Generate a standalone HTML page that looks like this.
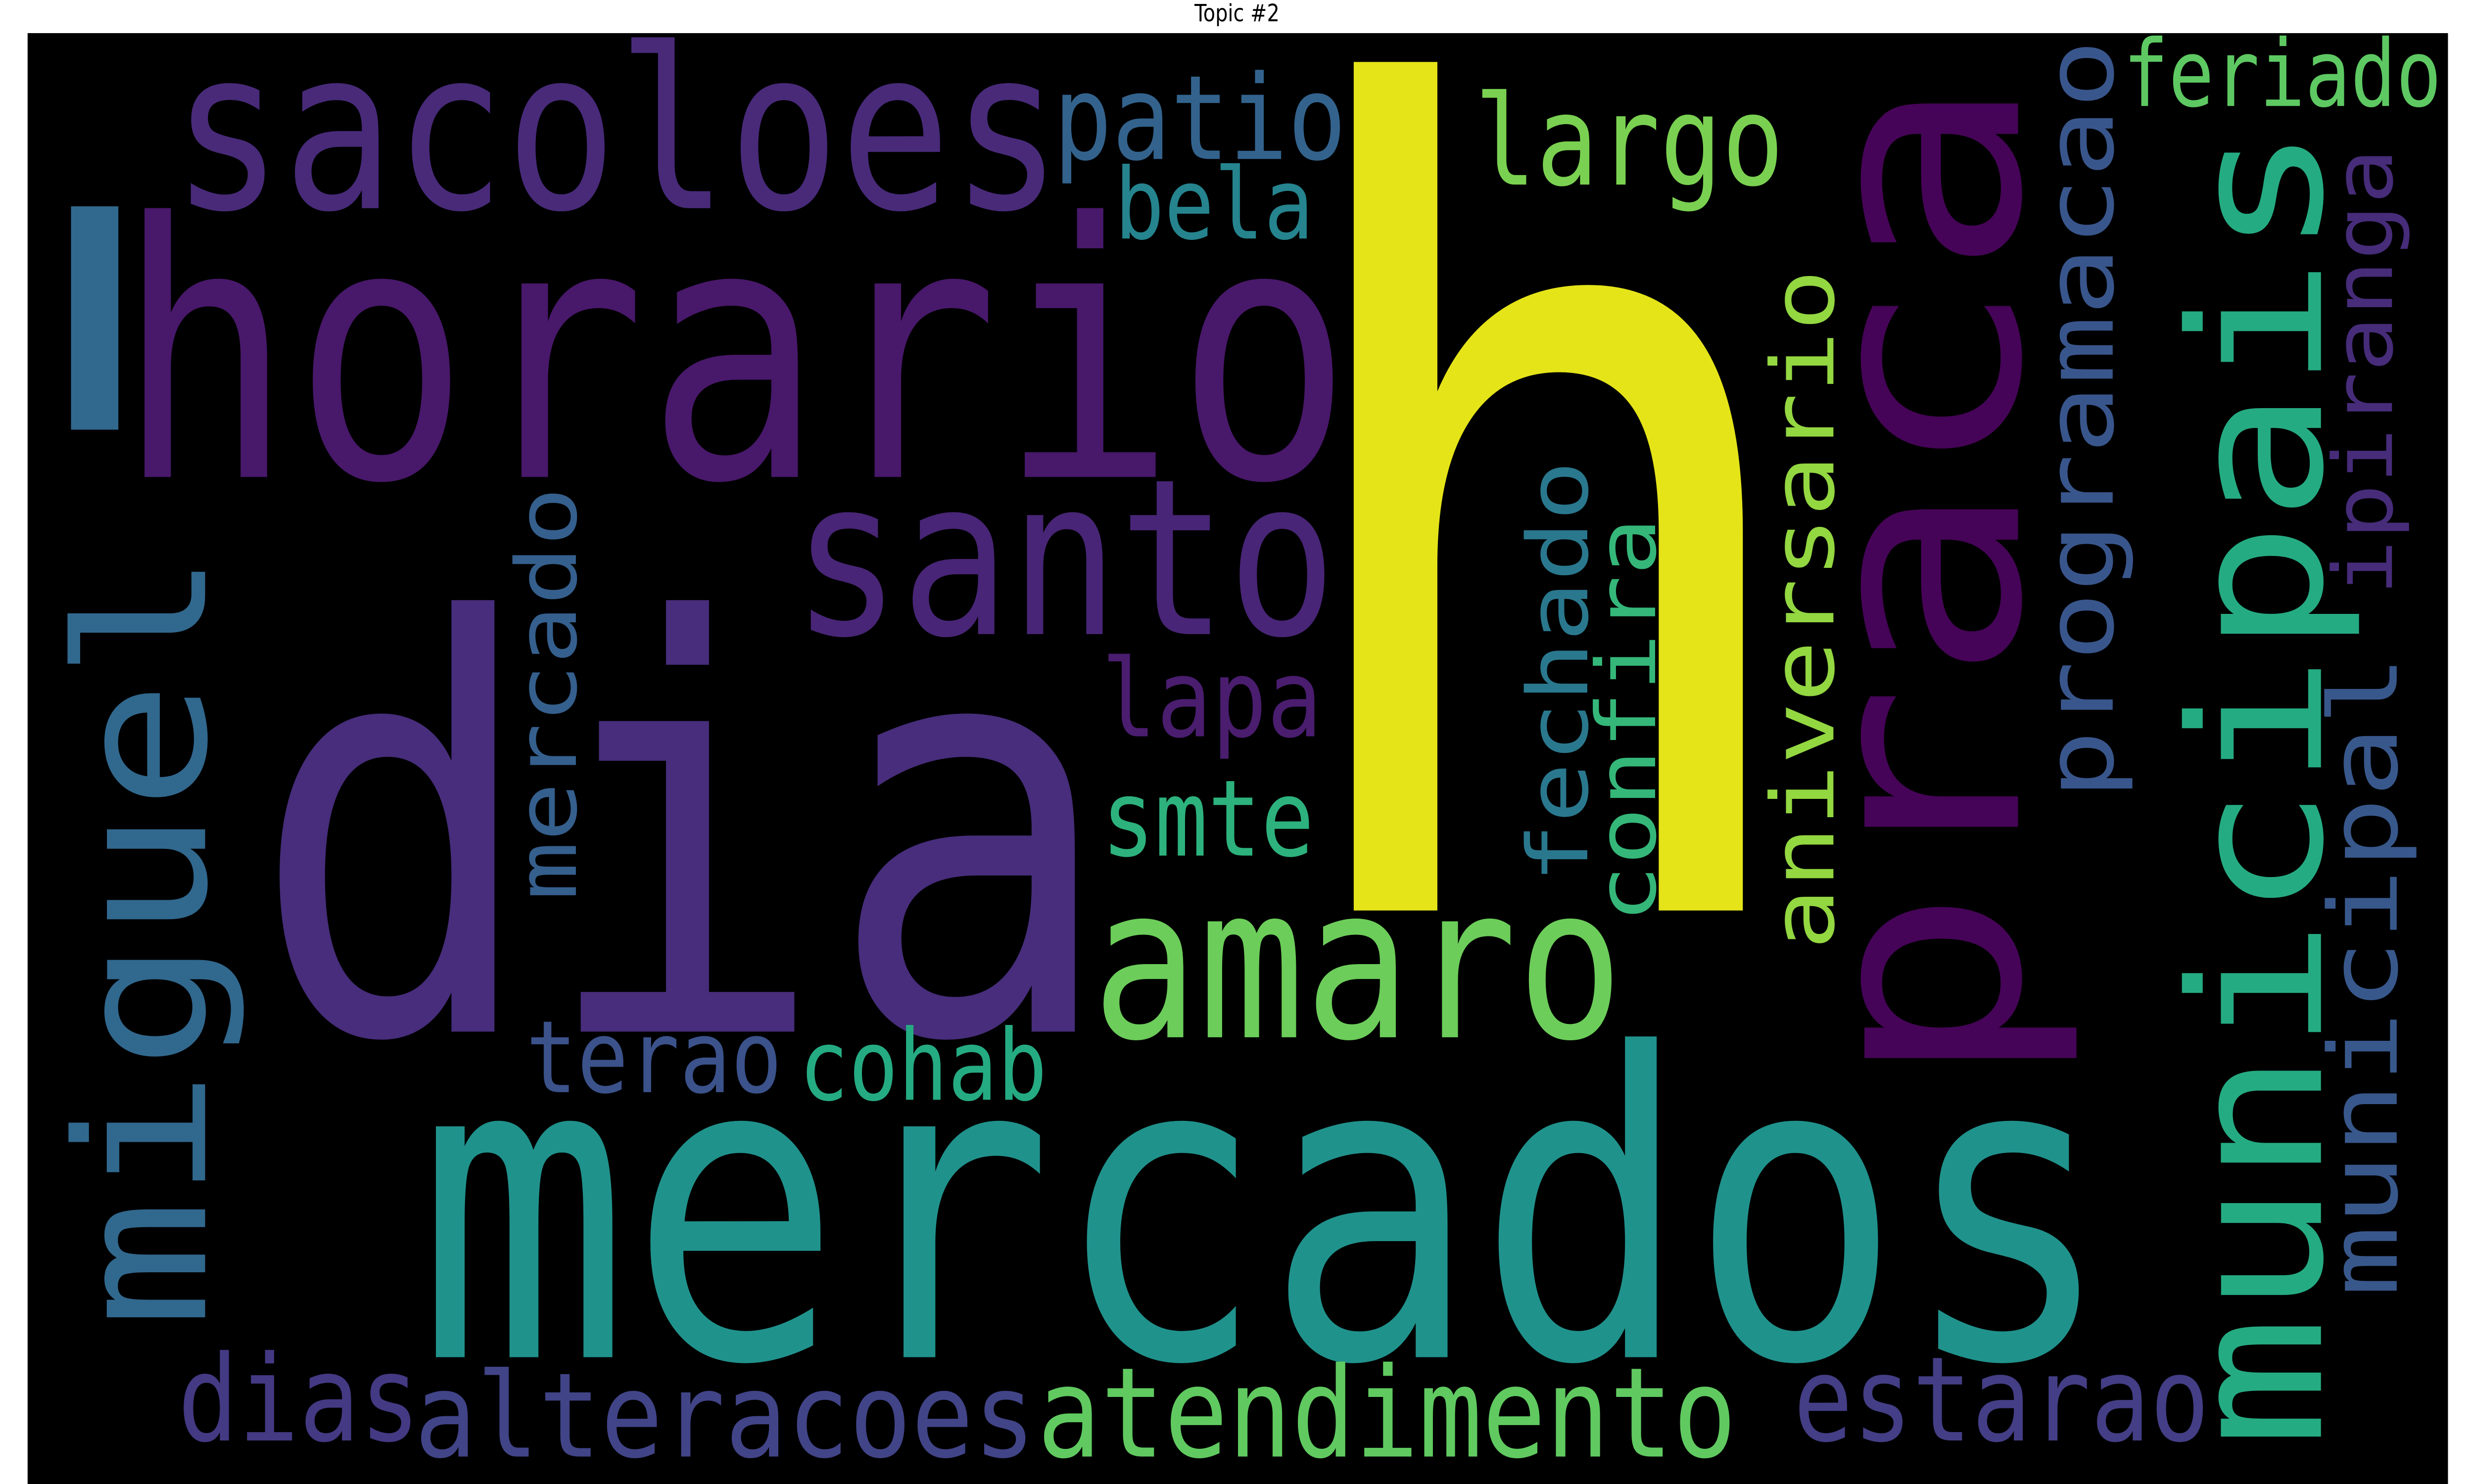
<!DOCTYPE html>
<html><head><meta charset="utf-8"><style>
html,body{margin:0;padding:0;background:#fff;width:100%;height:100%;overflow:hidden;}
svg{display:block;position:fixed;left:0;top:0;width:100vw;height:100vh;}
text.w{font-family:"DejaVu Sans Mono","Liberation Mono",monospace;}
</style></head><body>
<svg viewBox="0 0 1568 784" preserveAspectRatio="none" xmlns="http://www.w3.org/2000/svg">
<rect x="0" y="0" width="1568" height="784" fill="#fff"/>
<text x="784" y="11.2" font-family="DejaVu Sans, Liberation Sans, sans-serif" font-size="12.5" text-anchor="middle" fill="#000">Topic #2</text>
<rect x="17.5" y="17.5" width="1534" height="767" fill="#000"/>
<g id="words"></g>
</svg>
<script>
// horizontal words: text, left, right, baseline, size, color
const hWords = [
 ["sacoloes",117,665,110,118,"#482a79"],
 ["horario",87,844,252,187,"#48186a"],
 ["santo",510,839,335,115,"#482576"],
 ["patio",672,849,84,62,"#33638d"],
 ["bela",710,829,126,52,"#25848e"],
 ["largo",939,1126,97.5,66,"#7ad151"],
 ["feriado",1349,1544,56,49,"#5ec962"],
 ["lapa",702,834,389,57,"#4a1d6f"],
 ["smte",702,829,452,56,"#2db27d"],
 ["amaro",700,1021,548,112,"#6ccd5a"],
 ["dia",180,686,545,300,"#472d7b"],
 ["terao",337,492,577,53,"#3b528b"],
 ["cohab",510,660,581,52,"#25ab82"],
 ["mercados",280,1324,717,223,"#20928c"],
 ["dias",117,262,761,63,"#443983"],
 ["alteracoes",267,652,769.5,62,"#414487"],
 ["atendimento",662,1096,769.5,66,"#60ca60"],
 ["estarao",1141,1396,761,62,"#433e85"]
];
// vertical words: text, baselineX, top, bottom, size, color
const vWords = [
 ["miguel",130,299,694,114,"#31688e"],
 ["mercado",365,261,472,53,"#355f8d"],
 ["praca",1279,52,563,178,"#450457"],
 ["municipais",1471,74,757,116,"#25ab82"],
 ["programacao",1339,25,418,60,"#39568c"],
 ["ipiranga",1516,82,311,52,"#472c7a"],
 ["municipal",1519,350,681,60,"#38588c"],
 ["aniversario",1162,146,498,55,"#93d741"],
 ["confira",1049,277,484,52,"#35b779"],
 ["fechado",1006,247,463,53,"#2a788e"]
];
const NS = "http://www.w3.org/2000/svg";
const g = document.getElementById("words");
for (const [t,L,R,b,s,c] of hWords) {
  const el = document.createElementNS(NS,"text");
  
  
  el.setAttribute("class","w");
  el.setAttribute("x", L - 0.07*s);
  el.setAttribute("y", b);
  el.setAttribute("font-size", s);
  el.setAttribute("fill", c);
  el.setAttribute("textLength", (R-L) + 0.14*s);
  el.setAttribute("lengthAdjust","spacingAndGlyphs");
  el.textContent = t;
  g.appendChild(el);
}
for (const [t,bx,top,bot,s,c] of vWords) {
  const el = document.createElementNS(NS,"text");
  
  
  el.setAttribute("class","w");
  el.setAttribute("transform","translate(" + bx + "," + (bot + 0.07*s) + ") rotate(-90)");
  el.setAttribute("x", 0);
  el.setAttribute("y", 0);
  el.setAttribute("font-size", s);
  el.setAttribute("fill", c);
  el.setAttribute("textLength", (bot-top) + 0.14*s);
  el.setAttribute("lengthAdjust","spacingAndGlyphs");
  el.textContent = t;
  g.appendChild(el);
}
const h = document.createElementNS(NS,"text");


h.setAttribute("class","w");
h.setAttribute("x", 855.5 - 0.091*590);
h.setAttribute("y", 481);
h.setAttribute("font-size", 590);
h.setAttribute("fill", "#e5e419");
h.textContent = "h";
g.appendChild(h);
const bar = document.createElementNS(NS,"rect");


bar.setAttribute("x",45); bar.setAttribute("y",109);
bar.setAttribute("width",30); bar.setAttribute("height",118);
bar.setAttribute("fill","#31688e");
g.appendChild(bar);
</script>
</body></html>
